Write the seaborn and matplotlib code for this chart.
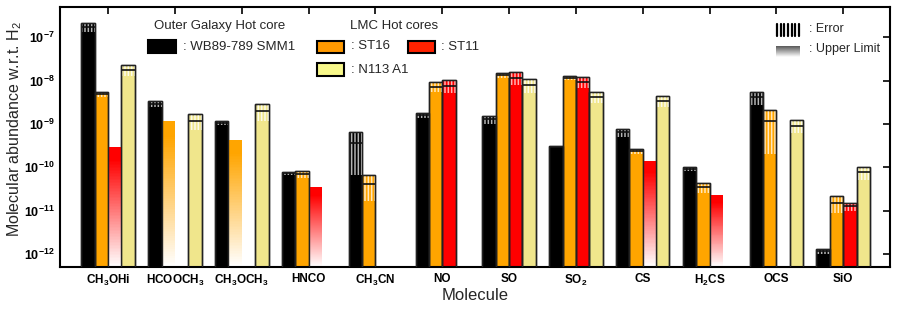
import numpy as np
import pandas as pd
import matplotlib
matplotlib.use('Agg')
import matplotlib.pyplot as plt
import seaborn as sns
from matplotlib.patches import Rectangle
from matplotlib.lines import Line2D
from matplotlib.colors import to_rgb

# ---------------- data ----------------
molecules = [r'CH$_\mathbf{3}$OHi', r'HCOOCH$_\mathbf{3}$', r'CH$_\mathbf{3}$OCH$_\mathbf{3}$', 'HNCO',
             r'CH$_\mathbf{3}$CN', 'NO', 'SO', r'SO$_\mathbf{2}$', 'CS', r'H$_\mathbf{2}$CS', 'OCS', 'SiO']
sources = ['WB89-789 SMM1', 'ST16', 'ST11', 'N113 A1']
nan = np.nan

wb_val = [1.7e-7, 2.9e-9, 1.05e-9, 7.2e-11, 3.6e-10, 1.6e-9, 1.28e-9, 3.0e-10, 6.4e-10, 9.0e-11, 4.15e-9, 1.15e-12]
wb_err = [0.4e-7, 0.45e-9, 0.1e-9, 0.7e-11, 2.95e-10, 0.2e-9, 0.28e-9, 0.1e-10, 1.3e-10, 1.0e-11, 1.4e-9, 0.15e-12]
wb_ul = [0] * 12

st16_val = [4.9e-9, 1.17e-9, 4.35e-10, 7.0e-11, 4.2e-11, 7.3e-9, 1.33e-8, 1.15e-8, 2.35e-10, 3.45e-11, 1.15e-9, 1.53e-11]
st16_err = [0.6e-9, 0, 0, 1.4e-11, 2.5e-11, 1.8e-9, 0.15e-8, 0.1e-8, 0.3e-10, 0.85e-11, 0.95e-9, 0.65e-11]
st16_ul = [0, 1, 1, 0, 0, 0, 0, 0, 0, 0, 0, 0]

st11_val = [2.9e-10, nan, nan, 3.46e-11, nan, 7.7e-9, 1.18e-8, 9.3e-9, 1.4e-10, 2.3e-11, nan, 1.25e-11]
st11_err = [0, nan, nan, 0, nan, 2.6e-9, 0.38e-8, 2.7e-9, 0, 0, nan, 0.28e-11]
st11_ul = [1, 0, 0, 1, 0, 0, 0, 0, 1, 1, 0, 0]

n113_val = [1.76e-8, 1.2e-9, 2.0e-9, nan, nan, nan, 8.1e-9, 4.3e-9, 3.4e-9, nan, 9.2e-10, 7.6e-11]
n113_err = [0.5e-8, 0.47e-9, 0.85e-9, nan, nan, nan, 2.9e-9, 1.3e-9, 1.0e-9, nan, 2.9e-10, 2.4e-11]
n113_ul = [0] * 12

bar_colors = ['#000000', '#ffa500', '#ff0000', '#f0e68c']
legend_colors = ['#000000', '#ff9900', '#ff2200', '#f8f88a']
stripe_colors = ['#b4b4b4', (1, 1, 1, 0.75), (1, 1, 1, 0.7), (1, 1, 1, 0.85)]

YMIN, YMAX = 5e-13, 5e-7

rows = []
for s, (vals, errs, uls) in zip(sources, [(wb_val, wb_err, wb_ul), (st16_val, st16_err, st16_ul),
                                          (st11_val, st11_err, st11_ul), (n113_val, n113_err, n113_ul)]):
    for m, v, e, u in zip(molecules, vals, errs, uls):
        if np.isnan(v):
            continue
        rows.append(dict(molecule=m, source=s, value=v, err=e, ul=bool(u),
                         top=v if u else v + e))
df = pd.DataFrame(rows)

# ---------------- style ----------------
sns.set_style('white')
plt.rcParams['font.family'] = ['Liberation Sans', 'DejaVu Sans']
plt.rcParams['mathtext.fontset'] = 'custom'
plt.rcParams['mathtext.rm'] = 'Liberation Sans'
plt.rcParams['mathtext.bf'] = 'Liberation Sans:bold'
plt.rcParams['mathtext.it'] = 'Liberation Sans:italic'
plt.rcParams['hatch.linewidth'] = 1.1

fig = plt.figure(figsize=(8.99, 3.13), dpi=100)
ax = fig.add_axes([60 / 899, 1 - 267 / 313, 830 / 899, 260 / 313])
ax.set_yscale('log')

meas = df[~df.ul]
sns.barplot(data=meas, x='molecule', y='top', hue='source', order=molecules, hue_order=sources,
            palette=dict(zip(sources, bar_colors)), dodge=True, width=0.8, errorbar=None,
            legend=False, ax=ax, edgecolor='#222222', linewidth=1.0, saturation=1)

offsets = dict(zip(sources, [-0.3, -0.1, 0.1, 0.3]))
W = 0.2
for _, r in df.iterrows():
    j = sources.index(r.source)
    x = molecules.index(r.molecule) + offsets[r.source]
    if r.ul:
        edges = np.geomspace(YMIN, r.top, 81)
        t = np.clip(np.linspace(0, 1, 80) / 0.9, 0, 1)
        rgb = np.array(to_rgb(bar_colors[j]))
        cols = [tuple((1 - tt) * np.ones(3) + tt * rgb) for tt in t]
        ax.bar([x] * 80, np.diff(edges), bottom=edges[:-1], width=W, color=cols,
               linewidth=0, antialiased=False, zorder=2)
    else:
        lo = max(r.value - r.err, YMIN)
        hi = r.value + r.err
        ax.bar(x, hi - lo, bottom=lo, width=W, facecolor='none', edgecolor=stripe_colors[j],
               hatch='|||||', linewidth=0, zorder=3)
        ax.hlines(r.value, x - W / 2, x + W / 2, colors='#111111', lw=1.2, zorder=4)
        ax.bar(x, r.top, width=W, facecolor='none', edgecolor='#222222', linewidth=1.0, zorder=5)

ax.set_xlim(-0.72, 11.7)
ax.set_ylim(YMIN, YMAX)
ax.set_xticks(range(len(molecules)))
ax.set_xticklabels(molecules, fontweight='bold', fontsize=8.5)
yt = [1e-12, 1e-11, 1e-10, 1e-9, 1e-8, 1e-7]
ax.set_yticks(yt)
ax.set_yticklabels([r'$\mathbf{10^{%d}}$' % int(np.log10(v)) for v in yt], fontsize=9)
ax.yaxis.set_minor_locator(plt.NullLocator())
ax.tick_params(axis='both', which='major', direction='in', length=5, width=1.2,
               top=True, right=True, colors='black', pad=4)
for sp in ax.spines.values():
    sp.set_linewidth(1.5)
    sp.set_color('black')
ax.set_xlabel('Molecule', fontsize=12, labelpad=0)
ax.set_ylabel(r'Molecular abundance w.r.t. H$_2$', fontsize=11.5)
ax.yaxis.set_label_coords(-0.043, 0.53)

# ---------------- legend (manual) ----------------
def fx(px):
    return px / 899

def fy(py):
    return 1 - py / 313

def box(x0, y0, x1, y1, color):
    fig.add_artist(Rectangle((fx(x0), fy(y1)), fx(x1) - fx(x0), fy(y0) - fy(y1),
                             transform=fig.transFigure, facecolor=color, edgecolor='black', lw=1.5))

fs = 9.5
fig.text(fx(154), fy(26), 'Outer Galaxy Hot core', fontsize=fs, va='center')
box(148, 40, 176, 53, legend_colors[0])
fig.text(fx(183), fy(47), ': WB89-789 SMM1', fontsize=fs, va='center')
fig.text(fx(350), fy(26), 'LMC Hot cores', fontsize=fs, va='center')
box(317, 41, 344, 53, legend_colors[1])
fig.text(fx(351), fy(46), ': ST16', fontsize=fs, va='center')
box(408, 41, 435, 53, legend_colors[2])
fig.text(fx(441), fy(47), ': ST11', fontsize=fs, va='center')
box(317, 63, 344, 76, legend_colors[3])
fig.text(fx(351), fy(70), ': N113 A1', fontsize=fs, va='center')

for xx in np.linspace(777, 799, 7):
    fig.add_artist(Line2D([fx(xx), fx(xx)], [fy(24), fy(36)], transform=fig.transFigure,
                          color='black', lw=1.6))
fig.text(fx(809), fy(29), ': Error', fontsize=9, va='center')
gax = fig.add_axes([fx(776), fy(57), fx(800) - fx(776), fy(46) - fy(57)])
grad = np.linspace(0.35, 1.0, 50)[:, None] * np.ones((1, 5))
gax.imshow(grad, cmap='gray', vmin=0, vmax=1, aspect='auto', interpolation='bilinear')
gax.axis('off')
fig.text(fx(809), fy(49), ': Upper Limit', fontsize=9, va='center')

fig.savefig('out.png', dpi=100)
